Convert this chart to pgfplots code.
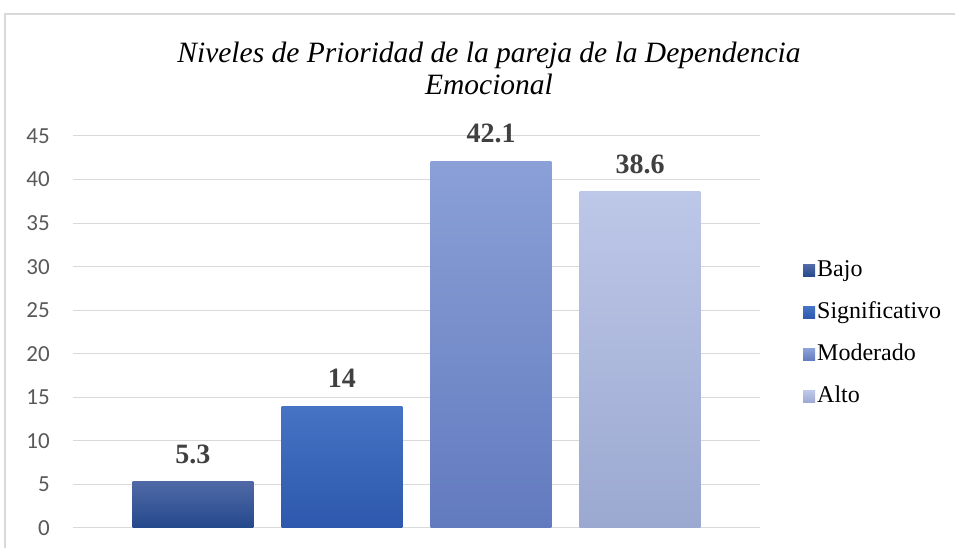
\documentclass[border=0pt]{standalone}
\usepackage{pgfplots}
\pgfplotsset{compat=1.18}
\usepackage{fontspec}
\setmainfont{Liberation Serif}
\newfontfamily\calibri{Carlito}
\definecolor{c1t}{HTML}{5069A6}
\definecolor{c1b}{HTML}{24488C}
\definecolor{c2t}{HTML}{4673C4}
\definecolor{c2b}{HTML}{2D58AD}
\definecolor{c3t}{HTML}{8BA0D7}
\definecolor{c3b}{HTML}{627BBF}
\definecolor{c4t}{HTML}{BDC7E8}
\definecolor{c4b}{HTML}{9BA8D0}
\definecolor{gridgray}{HTML}{D9D9D9}
\definecolor{ticktext}{HTML}{595959}
\definecolor{labeltext}{HTML}{404040}
\begin{document}
\begin{tikzpicture}[x=1pt,y=1pt]
\useasboundingbox (0,0) rectangle (955,548);
\draw[gridgray, line width=1.5pt] (5,-10) -- (5,534) -- (970,534);
\node[anchor=base, font=\fontsize{29.5}{33}\selectfont\itshape] at (489,485) {Niveles de Prioridad de la pareja de la Dependencia};
\node[anchor=base, font=\fontsize{29.5}{33}\selectfont\itshape] at (489,453) {Emocional};
\begin{axis}[
  at={(73pt,20pt)}, anchor=south west,
  scale only axis, width=687pt, height=392pt,
  xmin=-0.805, xmax=3.805, ymin=0, ymax=45,
  ytick={0,5,...,45}, xtick=\empty,
  axis line style={draw=none},
  ymajorgrids, major grid style={gridgray, line width=1pt},
  ytick style={draw=none},
  /pgf/number format/assume math mode=true,
  yticklabel style={font=\calibri\fontsize{23}{26}\selectfont, text=ticktext, inner sep=0pt, xshift=-23pt},
  ybar, bar width=0.81, bar shift=0pt,
  nodes near coords,
  nodes near coords style={font=\fontsize{28}{30}\selectfont\bfseries, text=labeltext, anchor=south, inner sep=0pt, yshift=18pt},
  legend style={draw=none, fill=none, at={(1.0626,0.495)}, anchor=west, inner sep=0pt,
    font=\fontsize{24}{26}\selectfont, row sep=15pt,
    nodes={inner sep=2pt, text height=17pt, text depth=6pt}},
  legend cell align=left,
  legend image code/.code={\path[#1, draw=none] (0pt,-6pt) rectangle (12pt,6pt);},
  clip=false,
]
\addplot[draw=none, top color=c1t, bottom color=c1b] coordinates {(0,5.3)};
\addlegendentry{Bajo}
\addplot[draw=none, top color=c2t, bottom color=c2b] coordinates {(1,14)};
\addlegendentry{Significativo}
\addplot[draw=none, top color=c3t, bottom color=c3b] coordinates {(2,42.1)};
\addlegendentry{Moderado}
\addplot[draw=none, top color=c4t, bottom color=c4b] coordinates {(3,38.6)};
\addlegendentry{Alto}
\end{axis}
\end{tikzpicture}
\end{document}
